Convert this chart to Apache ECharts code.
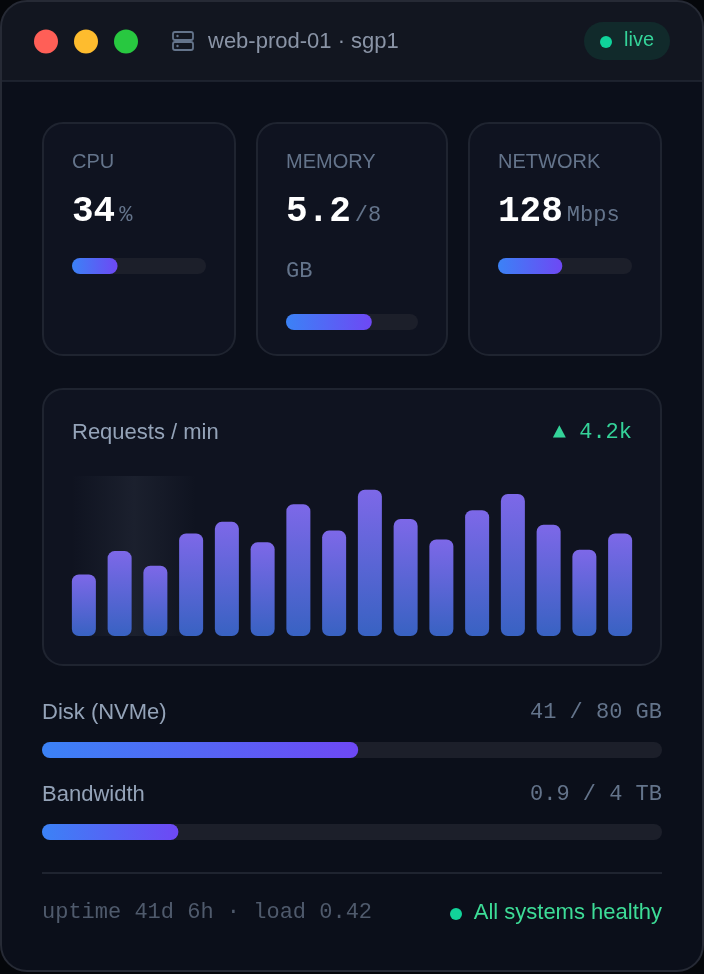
<!DOCTYPE html>
<html>
<head>
<meta charset="utf-8">
<script src="https://cdn.jsdelivr.net/npm/echarts@6/dist/echarts.min.js"></script>
<style>
  html, body { margin: 0; padding: 0; background: #05070b; }
  #chart { width: 704px; height: 974px; }
</style>
</head>
<body>
<div id="chart"></div>
<script>
// data
const hostName = "web-prod-01 · sgp1";
const liveLabel = "live";
const statLabels = ["CPU", "MEMORY", "NETWORK"];
const statValues = ["34", "5.2", "128"];
const statUnits = [["%"], ["/8", "GB"], ["Mbps"]];
const statPercents = [34, 65, 48];
const requestsTitle = "Requests / min";
const requestsDelta = "▲ 4.2k";
const requestsPerMin = [42, 58, 48, 70, 78, 64, 90, 72, 100, 80, 66, 86, 97, 76, 59, 70];
const storageLabels = ["Disk (NVMe)", "Bandwidth"];
const storageUsed = [41, 0.9];
const storageTotal = [80, 4];
const storageUnits = ["GB", "TB"];
const storagePercents = [51, 22];
const footerInfo = "uptime 41d 6h · load 0.42";
const healthText = "All systems healthy";

const SANS = "'Liberation Sans', Arial, sans-serif";
const MONO = "'Liberation Mono', monospace";

const fillGradient = () =>
  new echarts.graphic.LinearGradient(0, 0, 1, 0, [
    { offset: 0, color: "#3b82f6" },
    { offset: 1, color: "#6e48f4" },
  ]);

const txt = (text, x, y, font, fill, align) => ({
  type: "text",
  style: {
    text, x, y, font, fill,
    align: align || "left", textAlign: align || "left",
    verticalAlign: "middle", textVerticalAlign: "middle",
  },
});

const chart = echarts.init(document.getElementById("chart"));

const cards = [
  { x: 43, w: 192, barTop: 258 },
  { x: 257, w: 190, barTop: 314 },
  { x: 469, w: 192, barTop: 258 },
];

const graphics = [];

// window frame
graphics.push({ type: "rect", shape: { x: 1, y: 1, width: 702, height: 970, r: 26 }, style: { fill: "#0b0f1a" } });
graphics.push({ type: "rect", shape: { x: 1, y: 1, width: 702, height: 80, r: [26, 26, 0, 0] }, style: { fill: "#121620" } });
graphics.push({ type: "line", shape: { x1: 1, y1: 81, x2: 703, y2: 81 }, style: { stroke: "#232834", lineWidth: 1.5 } });
graphics.push({ type: "rect", shape: { x: 1, y: 1, width: 702, height: 970, r: 26 }, style: { fill: null, stroke: "#262a35", lineWidth: 2 } });

// traffic lights
["#ff5f57", "#febc2e", "#28c840"].forEach((c, i) => {
  graphics.push({ type: "circle", shape: { cx: 46 + i * 40, cy: 41.5, r: 12 }, style: { fill: c } });
});

// server icon
[32, 42].forEach((y) => {
  graphics.push({ type: "rect", shape: { x: 173, y: y, width: 20, height: 8, r: 2 }, style: { fill: null, stroke: "#64748b", lineWidth: 1.8 } });
  graphics.push({ type: "circle", shape: { cx: 177.5, cy: y + 4, r: 1.2 }, style: { fill: "#64748b" } });
});
graphics.push(txt(hostName, 208, 42, "22px " + SANS, "#8a94a6"));

// live pill
graphics.push({ type: "rect", shape: { x: 584, y: 22, width: 86, height: 38, r: 19 }, style: { fill: "#112a2b" } });
graphics.push({ type: "circle", shape: { cx: 606, cy: 42, r: 6 }, style: { fill: "#10d39b" } });
graphics.push(txt(liveLabel, 624, 40.5, "20px " + SANS, "#34d399"));

// stat cards
cards.forEach((c, i) => {
  graphics.push({ type: "rect", shape: { x: c.x, y: 123, width: c.w, height: 232, r: 20 }, style: { fill: "#0f1320", stroke: "#1f2430", lineWidth: 2 } });
  const px = c.x + 29;
  const lbl = txt(statLabels[i], px, 162.5, "20px " + SANS, "#64748b");
  lbl.style.letterSpacing = 0.8;
  graphics.push(lbl);
  graphics.push(txt(statValues[i], px, 212, "bold 36px " + MONO, "#ffffff"));
  const unitX = px + statValues[i].length * 21.6 + 4;
  graphics.push(txt(statUnits[i][0], unitX, 215.5, "22px " + MONO, "#64748b"));
  if (statUnits[i][1]) {
    graphics.push(txt(statUnits[i][1], px, 271, "22px " + MONO, "#64748b"));
  }
});

// requests card
graphics.push({ type: "rect", shape: { x: 43, y: 389, width: 618, height: 276, r: 20 }, style: { fill: "#0f1320", stroke: "#1f2430", lineWidth: 2 } });
graphics.push({
  type: "rect",
  shape: { x: 72, y: 476, width: 124, height: 160 },
  style: {
    fill: new echarts.graphic.LinearGradient(0, 0, 1, 0, [
      { offset: 0, color: "rgba(148,163,184,0)" },
      { offset: 0.5, color: "rgba(148,163,184,0.09)" },
      { offset: 1, color: "rgba(148,163,184,0)" },
    ]),
  },
});
graphics.push(txt(requestsTitle, 72, 433, "22px " + SANS, "#94a3b8"));
graphics.push(txt(requestsDelta, 632, 432, "22px " + MONO, "#34d399", "right"));

// storage rows
const rowTops = [742, 824];
storageLabels.forEach((s, i) => {
  const ty = rowTops[i] - 30;
  graphics.push(txt(s, 42, ty + 1, "22px " + SANS, "#94a3b8"));
  graphics.push(txt(storageUsed[i] + " / " + storageTotal[i] + " " + storageUnits[i], 662, ty, "22px " + MONO, "#64748b", "right"));
});

// footer
graphics.push({ type: "line", shape: { x1: 42, y1: 873, x2: 662, y2: 873 }, style: { stroke: "#1f2430", lineWidth: 2 } });
graphics.push(txt(footerInfo, 42, 912, "22px " + MONO, "#4f5a6c"));
graphics.push({ type: "circle", shape: { cx: 456, cy: 914, r: 6 }, style: { fill: "#12d39a" } });
graphics.push(txt(healthText, 662, 913, "22px " + SANS, "#3ddc97", "right"));

// grids / axes / series
const grids = [];
const xAxes = [];
const yAxes = [];
const series = [];

function addProgress(left, top, width, value, max) {
  const idx = grids.length;
  grids.push({ left: left, top: top, width: width, height: 16 });
  xAxes.push({ gridIndex: idx, type: "value", min: 0, max: max, show: false });
  yAxes.push({ gridIndex: idx, type: "category", data: [""], show: false });
  series.push({
    type: "bar",
    xAxisIndex: idx,
    yAxisIndex: idx,
    data: [value],
    barWidth: 16,
    showBackground: true,
    backgroundStyle: { color: "#1c1f2a", borderRadius: 8 },
    itemStyle: { color: fillGradient(), borderRadius: 8 },
    silent: true,
  });
}

// requests bars
grids.push({ left: 66, right: 66, top: 475, bottom: 338 });
xAxes.push({
  gridIndex: 0,
  type: "category",
  data: requestsPerMin.map((_, i) => String(i + 1)),
  show: false,
});
yAxes.push({ gridIndex: 0, type: "value", min: 0, max: 110, show: false });
series.push({
  type: "bar",
  xAxisIndex: 0,
  yAxisIndex: 0,
  data: requestsPerMin,
  barWidth: 24,
  itemStyle: {
    borderRadius: 7,
    color: new echarts.graphic.LinearGradient(0, 0, 0, 1, [
      { offset: 0, color: "#7d68e8" },
      { offset: 1, color: "#3862c2" },
    ]),
  },
  silent: true,
});

cards.forEach((c, i) => addProgress(c.x + 29, c.barTop, c.w - 58, statPercents[i], 100));
storagePercents.forEach((p, i) => addProgress(42, rowTops[i], 620, p, 100));

chart.setOption({
  backgroundColor: "#05070b",
  animation: false,
  graphic: { elements: graphics },
  grid: grids,
  xAxis: xAxes,
  yAxis: yAxes,
  series: series,
});
</script>
</body>
</html>
